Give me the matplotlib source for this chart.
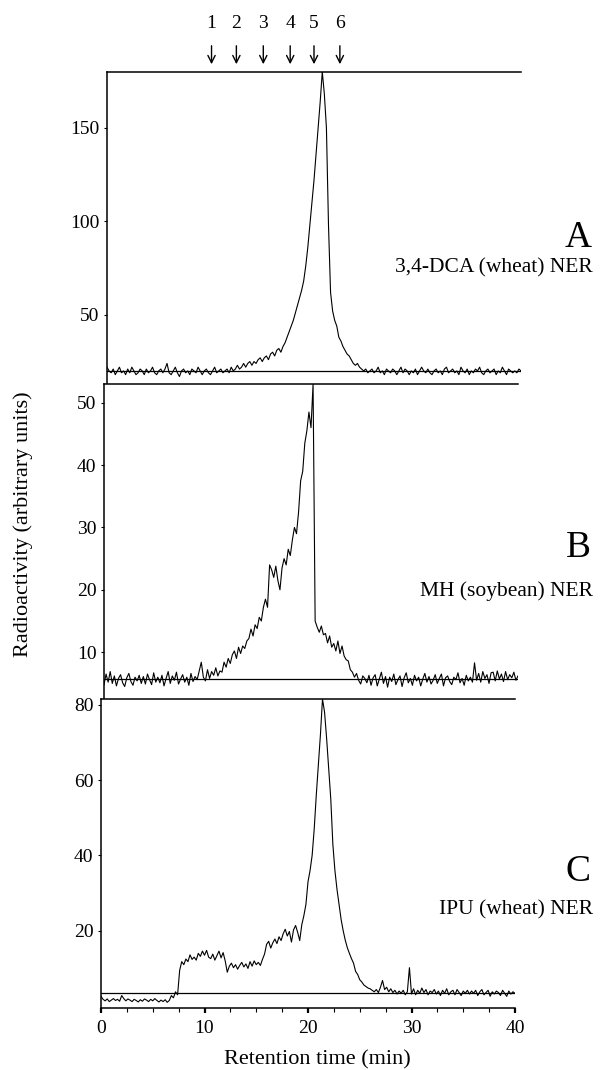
import matplotlib
matplotlib.use("Agg")
import matplotlib.pyplot as plt
from matplotlib.ticker import MultipleLocator
from matplotlib.transforms import blended_transform_factory
import numpy as np

plt.rcParams['font.family'] = ['Liberation Serif', 'DejaVu Serif']

# retention time grid (min), one reading every 0.2 min
time_min = np.linspace(0, 40, 201)

# radioactivity (arbitrary units)
dca_wheat = [
    22, 20, 19, 21, 18, 20, 22, 19, 20, 18,
    21, 19, 22, 20, 18, 19, 21, 20, 18, 21,
    19, 20, 22, 19, 18, 20, 21, 19, 21, 24,
    19, 18, 20, 22, 19, 17, 20, 21, 19, 20,
    18, 21, 20, 19, 22, 20, 18, 20, 21, 19,
    18, 20, 22, 19, 20, 21, 19, 20, 21, 19,
    22, 20, 21, 23, 21, 22, 24, 22, 24, 25,
    23, 25, 24, 26, 27, 25, 27, 28, 26, 29,
    30, 28, 31, 32, 30, 33, 35, 38, 41, 44,
    47, 51, 55, 59, 63, 68, 76, 86, 98, 110,
    122, 136, 150, 164, 180, 168, 150, 98, 62, 52,
    47, 44, 38, 36, 33, 31, 29, 28, 26, 24,
    23, 24, 22, 21, 20, 21, 19, 20, 21, 19,
    20, 22, 19, 20, 18, 21, 20, 19, 21, 20,
    18, 20, 22, 19, 21, 20, 18, 20, 19, 21,
    18, 20, 22, 20, 19, 21, 19, 18, 20, 21,
    19, 20, 18, 21, 22, 19, 20, 21, 19, 20,
    18, 22, 20, 19, 21, 18, 20, 19, 21, 20,
    22, 19, 18, 20, 21, 19, 20, 21, 18, 20,
    19, 22, 20, 18, 21, 20, 19, 20, 19, 21,
    20,
]

mh_soybean = [
    4.8, 6.5, 5.2, 6.9, 5.0, 6.2, 4.6, 5.8, 6.4, 5.1,
    4.5, 5.9, 6.6, 5.3, 4.7, 6.0, 5.4, 6.3, 5.0, 6.1,
    4.9, 6.5, 5.6, 4.8, 6.7, 5.2, 6.0, 5.1, 6.3, 4.6,
    5.8, 6.9, 5.0, 6.2, 5.5, 6.8, 4.9, 5.7, 6.4, 5.2,
    6.0, 4.7, 6.6, 5.3, 6.1, 5.6, 7.0, 8.4, 6.0, 5.4,
    7.2, 5.8, 6.9, 6.3, 7.5, 6.2, 7.0, 6.8, 8.4, 7.6,
    9.0, 8.2, 9.6, 10.2, 9.0, 10.8, 9.8, 11.0, 10.6, 11.8,
    12.2, 13.7, 12.6, 14.4, 13.8, 15.6, 15.0, 17.2, 18.5, 17.2,
    24.0, 23.2, 22.0, 23.8, 21.5, 20.0, 23.5, 25.0, 24.0, 26.5,
    25.5, 28.0, 30.0, 29.0, 32.5, 37.5, 39.0, 43.5, 45.5, 48.5,
    46.0, 53.0, 15.0, 14.0, 13.2, 14.2, 12.8, 13.0, 11.5, 12.6,
    10.8, 11.4, 10.2, 11.8, 9.8, 11.0, 9.4, 8.8, 8.6, 7.2,
    6.8, 6.0, 6.6, 5.5, 4.9, 6.2, 5.8, 5.1, 6.3, 4.7,
    5.9, 6.4, 4.6, 5.7, 6.8, 5.0, 6.1, 4.4, 6.0, 5.3,
    6.5, 4.8, 5.6, 6.2, 4.5, 5.9, 6.7, 5.1, 5.8, 4.7,
    6.3, 5.4, 6.0, 4.6, 5.7, 6.6, 5.2, 6.1, 4.9, 5.5,
    6.4, 5.0, 5.8, 6.5, 4.6, 5.9, 6.2, 5.3, 4.8, 6.0,
    5.6, 6.7, 5.1, 5.8, 4.7, 6.3, 5.4, 6.0, 5.2, 8.3,
    5.5, 6.6, 5.2, 6.9, 5.8, 6.4, 5.0, 6.7, 6.8, 5.4,
    7.0, 5.7, 6.5, 5.3, 6.9, 5.6, 6.4, 5.9, 6.8, 5.5,
    6.2,
]

ipu_wheat = [
    2.6, 1.8, 1.4, 1.9, 1.2, 1.6, 2.0, 1.5, 1.8, 1.3,
    2.8, 2.0, 1.4, 1.9, 1.6, 1.2, 1.8, 1.5, 1.1, 1.7,
    1.3, 1.9, 1.6, 1.2, 1.8, 1.4, 2.0, 1.5, 1.1, 1.6,
    1.2, 1.7, 1.0, 1.5, 2.8, 2.2, 3.8, 3.0, 9.5, 11.8,
    11.0, 12.5, 11.8, 13.6, 12.4, 13.0, 12.2, 14.0, 13.2, 14.6,
    13.5, 14.8, 13.0, 12.6, 13.8, 12.2, 13.4, 14.6, 12.8, 14.2,
    12.0, 9.0, 10.6, 11.4, 10.2, 11.0, 9.8, 10.8, 11.6, 10.4,
    11.2, 10.0, 11.8, 10.6, 12.0, 11.0, 11.6, 10.8, 12.4, 13.8,
    16.4, 17.2, 15.4, 16.8, 17.8, 16.6, 18.4, 17.4, 19.2, 20.4,
    18.6, 19.8, 17.0, 20.2, 21.4, 19.6, 17.4, 21.6, 24.0, 27.0,
    33.0, 36.0, 40.0, 47.0, 56.0, 64.0, 72.0, 81.5, 78.0, 71.0,
    63.0, 55.0, 43.0, 36.0, 31.0, 27.0, 23.0, 20.0, 17.5, 15.5,
    14.0, 12.6, 11.4, 9.2, 8.4, 7.0, 6.4, 5.6, 5.2, 4.8,
    4.6, 4.2, 3.8, 4.4, 3.6, 5.0, 6.8, 4.4, 5.0, 3.8,
    4.6, 3.6, 4.2, 3.2, 4.0, 3.4, 4.2, 3.0, 3.8, 10.2,
    3.2, 4.6, 3.0, 4.2, 3.4, 4.8, 3.6, 4.4, 3.0, 4.0,
    3.6, 4.4, 3.2, 4.0, 2.8, 4.2, 3.4, 4.6, 3.0, 3.8,
    4.2, 3.0, 4.4, 3.6, 2.8, 4.0, 3.4, 4.2, 3.2, 4.0,
    3.4, 4.2, 2.8, 3.8, 4.4, 3.0, 3.6, 4.2, 2.6, 3.8,
    3.2, 4.0, 3.6, 2.8, 4.2, 3.4, 2.6, 4.0, 3.2, 3.8,
    3.4,
]

baselines = [20.2, 5.7, 3.4]
panel_letters = ['A', 'B', 'C']
panel_names = ['3,4-DCA (wheat) NER', 'MH (soybean) NER', 'IPU (wheat) NER']
y_limits = [(13, 180), (2.5, 53), (-0.5, 81.5)]
y_ticks = [[50, 100, 150], [10, 20, 30, 40, 50], [20, 40, 60, 80]]

standard_labels = ['1', '2', '3', '4', '5', '6']
standard_times = [10.1, 12.5, 15.1, 17.7, 20.0, 22.5]

W, H = 601, 1070
fig = plt.figure(figsize=(W / 100, H / 100), dpi=100)

# pixel boxes of the three stacked panels (left, top, bottom); the scan is slightly skewed
boxes = [(107, 71.7, 384), (104, 384, 699), (101, 699, 1008)]
panel_w = 414
letter_y = [238, 548, 872]
name_y = [268, 591, 910]

traces = [dca_wheat, mh_soybean, ipu_wheat]
axes = []
for i, (left, top, bottom) in enumerate(boxes):
    ax = fig.add_axes([left / W, 1 - bottom / H, panel_w / W, (bottom - top) / H])
    ax.plot(time_min, traces[i], color='black', lw=0.8)
    ax.axhline(baselines[i], color='black', lw=0.9)
    ax.set_xlim(0, 40)
    ax.set_ylim(*y_limits[i])
    ax.set_yticks(y_ticks[i])
    ax.tick_params(axis='y', direction='out', length=2.5, width=0.8, pad=3, labelsize=14)
    ax.spines['right'].set_visible(False)
    for s in ['left', 'top', 'bottom']:
        ax.spines[s].set_linewidth(1.1)
    if i < 2:
        ax.spines['bottom'].set_visible(False)
        ax.set_xticks([])
    else:
        ax.xaxis.set_major_locator(MultipleLocator(10))
        ax.xaxis.set_minor_locator(MultipleLocator(2.5))
        ax.tick_params(axis='x', which='major', direction='out', length=3.5, width=1.6,
                       pad=5, labelsize=14)
        ax.tick_params(axis='x', which='minor', direction='out', length=3, width=0.8)
    fig.text(578 / W, 1 - letter_y[i] / H, panel_letters[i], fontsize=27,
             ha='center', va='center')
    fig.text(593 / W, 1 - name_y[i] / H, panel_names[i], fontsize=15.5,
             ha='right', va='center')
    axes.append(ax)

# elution positions of the reference standards above panel A
top_trans = blended_transform_factory(axes[0].transData, fig.transFigure)
for lab, t in zip(standard_labels, standard_times):
    axes[0].annotate('', xy=(t, 1 - 67 / H), xytext=(t, 1 - 43 / H),
                     xycoords=top_trans,
                     arrowprops=dict(arrowstyle='->', color='black', lw=1.0,
                                     mutation_scale=13))
    axes[0].text(t, 1 - 24 / H, lab, transform=top_trans, fontsize=14,
                 ha='center', va='center')

fig.text(317 / W, 1 - 1060 / H, 'Retention time (min)', fontsize=16, ha='center', va='center')
fig.text(23 / W, 1 - 524 / H, 'Radioactivity (arbitrary units)', fontsize=16,
         rotation=90, ha='center', va='center')

fig.savefig('out.png', dpi=100)
